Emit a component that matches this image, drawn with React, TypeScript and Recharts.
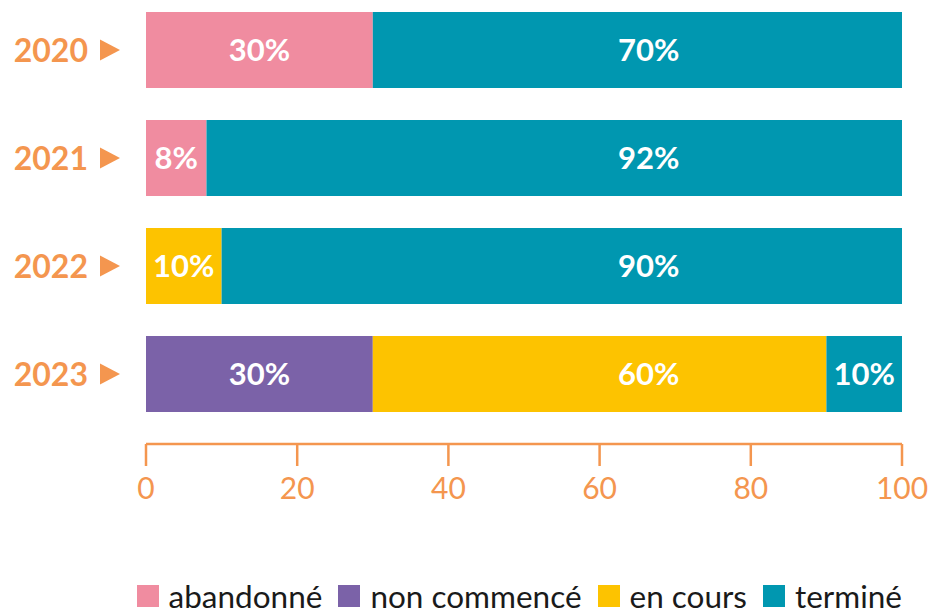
import React from "react";
import { BarChart, Bar, XAxis, YAxis, LabelList } from "recharts";

const years = ["2020", "2021", "2022", "2023"];
const abandonne = [30, 8, 0, 0];
const nonCommence = [0, 0, 0, 30];
const enCours = [0, 0, 10, 60];
const termine = [70, 92, 90, 10];
const xTicks = [0, 20, 40, 60, 80, 100];

const ORANGE = "#F4964F";
const FONT = "Lato, 'Noto Sans', sans-serif";

const SERIES = [
  { key: "abandonne", label: "abandonné", color: "#F08CA0", values: abandonne },
  { key: "nonCommence", label: "non commencé", color: "#7B62A8", values: nonCommence },
  { key: "enCours", label: "en cours", color: "#FDC300", values: enCours },
  { key: "termine", label: "terminé", color: "#0097B0", values: termine },
];

const data = years.map((y, i) => ({
  year: y,
  abandonne: abandonne[i],
  nonCommence: nonCommence[i],
  enCours: enCours[i],
  termine: termine[i],
}));

// wide segments get their label near the 2/3 mark of the axis, like the original
const WIDE_LABEL_AT = 66.5;

function YearTick({ y, payload }: any) {
  return (
    <g>
      <text
        x={88}
        y={y}
        dy="0.36em"
        textAnchor="end"
        fill={ORANGE}
        fontSize={32}
        fontWeight={700}
        fontFamily={FONT}
      >
        {payload.value}
      </text>
      <polygon points={`100,${y - 10.5} 100,${y + 10.5} 120,${y}`} fill={ORANGE} />
    </g>
  );
}

function makeLabel(seriesIdx: number) {
  const vals = SERIES[seriesIdx].values;
  // zero-width segments get no label entry, so map entry index -> row
  const rows = vals.map((v, i) => (v > 0 ? i : -1)).filter((i) => i >= 0);
  return (props: any) => {
    const { x, y, width, height, value, index } = props;
    const v = Number(value);
    if (!v) return null;
    let row = rows[index];
    if (row === undefined || vals[row] !== v) row = vals.indexOf(v);
    if (row < 0) return null;
    let start = 0;
    for (let k = 0; k < seriesIdx; k++) start += SERIES[k].values[row];
    const unit = width / v;
    const pos = v >= 50 ? WIDE_LABEL_AT : start + v / 2;
    const cx = x + (pos - start) * unit;
    return (
      <text
        x={cx}
        y={y + height / 2}
        dy="0.36em"
        textAnchor="middle"
        fill="#ffffff"
        fontSize={31}
        fontWeight={700}
        fontFamily={FONT}
      >
        {`${v}%`}
      </text>
    );
  };
}

export default function App() {
  return (
    <div
      style={{
        position: "fixed",
        top: 0,
        left: 0,
        width: 934,
        height: 610,
        overflow: "hidden",
        background: "#fff",
      }}
    >
      <div style={{ position: "absolute", top: -4, left: 0 }}>
        <BarChart
          width={934}
          height={520}
          data={data}
          layout="vertical"
          margin={{ top: 0, right: 32, left: 0, bottom: 12 }}
        >
          <XAxis
            type="number"
            domain={[0, 100]}
            ticks={xTicks}
            height={60}
            axisLine={{ stroke: ORANGE, strokeWidth: 2.5 }}
            tickLine={{ stroke: ORANGE, strokeWidth: 2.5 }}
            tickSize={22}
            tickMargin={12}
            tick={{ fill: ORANGE, fontSize: 30, fontFamily: FONT }}
          />
          <YAxis
            type="category"
            dataKey="year"
            width={146}
            axisLine={false}
            tickLine={false}
            padding={{ top: 0, bottom: 16 }}
            tick={<YearTick />}
          />
          {SERIES.map((s, si) => (
            <Bar
              key={s.key}
              dataKey={s.key}
              stackId="a"
              fill={s.color}
              barSize={76}
              isAnimationActive={false}
            >
              <LabelList dataKey={s.key} content={makeLabel(si)} />
            </Bar>
          ))}
        </BarChart>
      </div>
      <div
        style={{
          position: "absolute",
          top: 579,
          right: 32,
          height: 34,
          display: "flex",
          alignItems: "center",
          fontFamily: FONT,
          fontSize: 31.5,
          color: "#1a1a1a",
          lineHeight: "34px",
          whiteSpace: "nowrap",
        }}
      >
        {SERIES.map((s, i) => (
          <div key={s.key} style={{ display: "flex", alignItems: "center", marginLeft: i === 0 ? 0 : 16 }}>
            <span style={{ width: 22, height: 22, background: s.color, display: "inline-block", marginRight: 10 }} />
            <span>{s.label}</span>
          </div>
        ))}
      </div>
    </div>
  );
}
